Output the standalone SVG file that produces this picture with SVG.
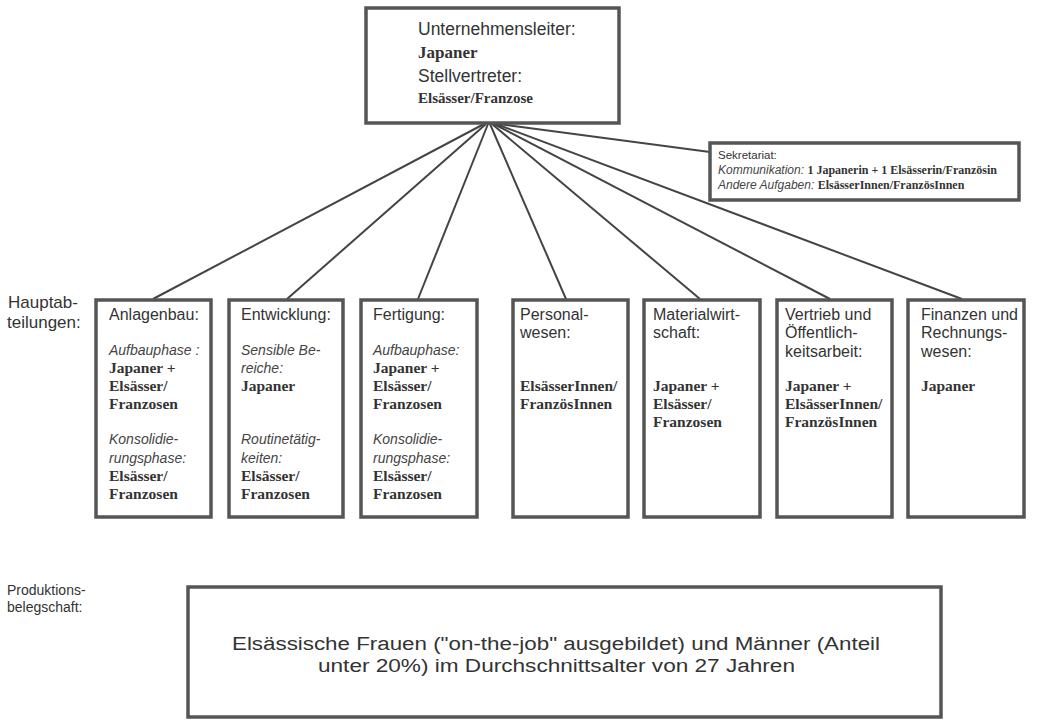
<svg xmlns="http://www.w3.org/2000/svg" width="1053" height="721" viewBox="0 0 1053 721">
<style>
.box{fill:#fff;stroke:#555;stroke-width:3.5}
.con{stroke:#444;stroke-width:2;fill:none}
.s{font-family:"Liberation Sans",Arial,sans-serif;fill:#333}
.i{font-family:"Liberation Sans",Arial,sans-serif;font-style:italic;fill:#444}
.b{font-family:"Liberation Serif","Times New Roman",serif;font-weight:bold;fill:#333}
.d .s{font-size:16px}
.d .i{font-size:14px}
.d .b{font-size:15.5px}
</style>
<rect width="1053" height="721" fill="#fff"/>
<g id="connectors">
<line class="con" x1="484" y1="124" x2="153" y2="299"/>
<line class="con" x1="486" y1="124" x2="287" y2="299"/>
<line class="con" x1="488" y1="124" x2="418" y2="299"/>
<line class="con" x1="490" y1="124" x2="566" y2="299"/>
<line class="con" x1="492" y1="124" x2="700" y2="299"/>
<line class="con" x1="494" y1="124" x2="830" y2="299"/>
<line class="con" x1="496" y1="124" x2="962" y2="299"/>
<line class="con" x1="498" y1="124" x2="710" y2="152"/>
</g>
<g id="leiter">
<rect class="box" x="366" y="8" width="253" height="115"/>
<text class="s" x="418" y="35" font-size="17.5">Unternehmensleiter:</text>
<text class="b" x="418" y="58" font-size="17">Japaner</text>
<text class="s" x="418" y="82" font-size="17.5">Stellvertreter:</text>
<text class="b" x="418" y="103" font-size="15">Elsässer/Franzose</text>
</g>
<g id="sekretariat">
<rect class="box" x="710" y="143" width="309" height="57"/>
<text class="s" x="718" y="159" font-size="11.5">Sekretariat:</text>
<text x="718" y="174" font-size="12"><tspan class="i">Kommunikation: </tspan><tspan class="b" font-size="12">1 Japanerin + 1 Elsässerin/Französin</tspan></text>
<text x="718" y="189" font-size="12"><tspan class="i">Andere Aufgaben:  </tspan><tspan class="b" font-size="12">ElsässerInnen/FranzösInnen</tspan></text>
</g>
<g id="label-haupt">
<text class="s" x="8" y="308" font-size="17">Hauptab-</text>
<text class="s" x="7" y="328" font-size="17">teilungen:</text>
</g>
<g id="anlagenbau" class="d">
<rect class="box" x="96" y="300" width="115" height="217"/>
<text class="s" x="109" y="320">Anlagenbau:</text>
<text class="i" x="109" y="355">Aufbauphase :</text>
<text class="b" x="109" y="373">Japaner +</text>
<text class="b" x="109" y="391">Elsässer/</text>
<text class="b" x="109" y="409">Franzosen</text>
<text class="i" x="109" y="444">Konsolidie-</text>
<text class="i" x="109" y="463">rungsphase:</text>
<text class="b" x="109" y="481">Elsässer/</text>
<text class="b" x="109" y="499">Franzosen</text>
</g>
<g id="entwicklung" class="d">
<rect class="box" x="229" y="300" width="114" height="217"/>
<text class="s" x="241" y="320">Entwicklung:</text>
<text class="i" x="241" y="355">Sensible Be-</text>
<text class="i" x="241" y="373">reiche:</text>
<text class="b" x="241" y="391">Japaner</text>
<text class="i" x="241" y="444">Routinetätig-</text>
<text class="i" x="241" y="463">keiten:</text>
<text class="b" x="241" y="481">Elsässer/</text>
<text class="b" x="241" y="499">Franzosen</text>
</g>
<g id="fertigung" class="d">
<rect class="box" x="361" y="300" width="116" height="217"/>
<text class="s" x="373" y="320">Fertigung:</text>
<text class="i" x="373" y="355">Aufbauphase:</text>
<text class="b" x="373" y="373">Japaner +</text>
<text class="b" x="373" y="391">Elsässer/</text>
<text class="b" x="373" y="409">Franzosen</text>
<text class="i" x="373" y="444">Konsolidie-</text>
<text class="i" x="373" y="463">rungsphase:</text>
<text class="b" x="373" y="481">Elsässer/</text>
<text class="b" x="373" y="499">Franzosen</text>
</g>
<g id="personalwesen" class="d">
<rect class="box" x="513" y="300" width="115" height="217"/>
<text class="s" x="520" y="320">Personal-</text>
<text class="s" x="520" y="338">wesen:</text>
<text class="b" x="520" y="391">ElsässerInnen/</text>
<text class="b" x="520" y="409">FranzösInnen</text>
</g>
<g id="materialwirtschaft" class="d">
<rect class="box" x="644" y="300" width="116" height="217"/>
<text class="s" x="653" y="320">Materialwirt-</text>
<text class="s" x="653" y="338">schaft:</text>
<text class="b" x="653" y="391">Japaner +</text>
<text class="b" x="653" y="409">Elsässer/</text>
<text class="b" x="653" y="427">Franzosen</text>
</g>
<g id="vertrieb" class="d">
<rect class="box" x="777" y="300" width="115" height="217"/>
<text class="s" x="785" y="320">Vertrieb und</text>
<text class="s" x="785" y="338">Öffentlich-</text>
<text class="s" x="785" y="357">keitsarbeit:</text>
<text class="b" x="785" y="391">Japaner +</text>
<text class="b" x="785" y="409">ElsässerInnen/</text>
<text class="b" x="785" y="427">FranzösInnen</text>
</g>
<g id="finanzen" class="d">
<rect class="box" x="908" y="300" width="116" height="217"/>
<text class="s" x="921" y="320">Finanzen und</text>
<text class="s" x="921" y="338">Rechnungs-</text>
<text class="s" x="921" y="357">wesen:</text>
<text class="b" x="921" y="391">Japaner</text>
</g>
<g id="label-produktion">
<text class="s" x="7" y="595" font-size="14">Produktions-</text>
<text class="s" x="7" y="612" font-size="14">belegschaft:</text>
</g>
<g id="produktionsbelegschaft">
<rect class="box" x="188" y="587" width="753" height="130"/>
<text class="s" x="232" y="650" font-size="18" textLength="648" lengthAdjust="spacingAndGlyphs">Elsässische Frauen ("on-the-job" ausgebildet) und Männer (Anteil</text>
<text class="s" x="318" y="672" font-size="18" textLength="477" lengthAdjust="spacingAndGlyphs">unter 20%) im Durchschnittsalter von 27 Jahren</text>
</g>
</svg>
